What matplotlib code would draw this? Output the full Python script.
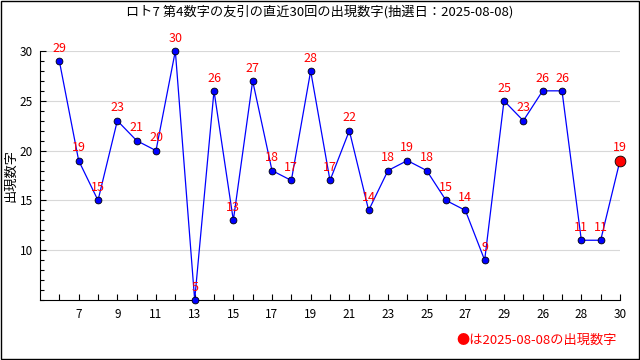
import numpy as np
import matplotlib.pyplot as plt
from matplotlib.ticker import MultipleLocator

plt.rcParams['font.family'] = ['Noto Sans CJK JP', 'DejaVu Sans']

# Chart data
draw_labels = [6, 7, 8, 9, 10, 11, 12, 13, 14, 15, 16, 17, 18, 19, 20,
               21, 22, 23, 24, 25, 26, 27, 28, 29, 25, 26, 27, 28, 29, 30]
values = [29, 19, 15, 23, 21, 20, 30, 5, 26, 13, 27, 18, 17, 28, 17,
          22, 14, 18, 19, 18, 15, 14, 9, 25, 23, 26, 26, 11, 11, 19]
title = 'ロト7 第4数字の友引の直近30回の出現数字(抽選日：2025-08-08)'
note = '●は2025-08-08の出現数字'

x = np.arange(len(values))

fig = plt.figure(figsize=(6.4, 3.6), dpi=100)
ax = fig.add_axes([40 / 640, 1 - 300 / 360, 580 / 640, 249 / 360])

ax.plot(x, values, color='blue', linewidth=0.9, zorder=2)
ax.scatter(x[:-1], values[:-1], s=24, color='blue', edgecolors='black',
           linewidths=0.6, zorder=3, clip_on=False)
ax.scatter(x[-1:], values[-1:], s=60, color='red', edgecolors='black',
           linewidths=0.6, zorder=3, clip_on=False)

for xi, v in zip(x, values):
    ax.annotate(str(v), (xi, v), xytext=(0, 4.5), textcoords='offset points',
                ha='center', va='bottom', color='red', fontsize=9,
                clip_on=False)

ax.set_xlim(-1, 29)
ax.set_ylim(5, 30)
ax.set_xticks(x)
ax.set_xticklabels([str(d) if i % 2 == 1 else '' for i, d in enumerate(draw_labels)])
ax.set_yticks([10, 15, 20, 25, 30])
ax.yaxis.set_minor_locator(MultipleLocator(1))
ax.tick_params(axis='both', direction='in', labelsize=8.5, length=4, width=0.8)
ax.tick_params(axis='y', which='minor', direction='in', length=3, width=0.8)
ax.tick_params(axis='x', pad=6)
ax.tick_params(axis='y', pad=5)

ax.grid(axis='y', color='#d8d8d8', linewidth=0.8, zorder=0)
ax.set_axisbelow(True)
for s in ['top', 'right']:
    ax.spines[s].set_visible(False)

ax.set_ylabel('出現数字', fontsize=9.5)
ax.yaxis.set_label_coords(-23 / 580, 0.5)

fig.suptitle(title, y=1 - 12 / 360, va='center', fontsize=9.5)
fig.text(617 / 640, 1 - 340 / 360, note, ha='right', va='center',
         color='red', fontsize=9.5)

fig.patches.append(plt.Rectangle((0.001, 0.002), 0.997, 0.996, transform=fig.transFigure,
                                 fill=False, edgecolor='black', linewidth=1.0))

fig.savefig('out.png', dpi=100)
